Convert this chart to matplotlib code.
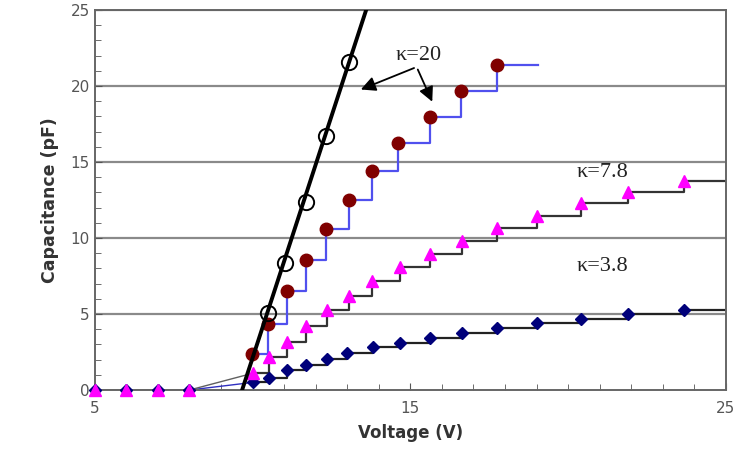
import numpy as np
import matplotlib.pyplot as plt
from matplotlib.ticker import MultipleLocator

# open circles (k=20, fitted line)
circ_v = [10.49, 11.03, 11.7, 12.33, 13.06]
circ_c = [5.07, 8.36, 12.4, 16.7, 21.6]
fit_v = [9.67, 13.6]
fit_c = [0.0, 25.0]

# dark red circles with blue step line (k=20)
red_v = [9.98, 10.5, 11.08, 11.7, 12.33, 13.06, 13.8, 14.6, 15.63, 16.6, 17.76, 19.03]
red_c = [2.37, 4.34, 6.5, 8.55, 10.6, 12.5, 14.4, 16.25, 17.96, 19.7, 21.4, 21.4]

# magenta triangles (k=7.8)
mag_v = [5, 6, 7, 8, 10.0, 10.52, 11.08, 11.7, 12.35, 13.06, 13.8, 14.68, 15.63, 16.64,
         17.75, 19.02, 20.4, 21.9, 23.66, 25.0]
mag_c = [0, 0, 0, 0, 1.1, 2.2, 3.15, 4.2, 5.26, 6.2, 7.2, 8.1, 8.95, 9.8,
         10.67, 11.47, 12.3, 13.05, 13.75, 13.75]

# navy diamonds (k=3.8)
navy_v = [5, 6, 7, 8, 10.0, 10.52, 11.08, 11.7, 12.35, 13.0, 13.83, 14.68, 15.63, 16.64,
          17.75, 19.02, 20.4, 21.9, 23.66, 25.0]
navy_c = [0, 0, 0, 0, 0.5, 0.8, 1.3, 1.65, 2.03, 2.45, 2.83, 3.1, 3.4, 3.77,
          4.1, 4.43, 4.7, 5.0, 5.26, 5.26]

fig = plt.figure(figsize=(7.4, 4.53), dpi=100)
ax = fig.add_axes([0.128, 0.139, 0.853, 0.839])

for y in [5, 10, 15, 20, 25]:
    ax.axhline(y, color='#8a8a8a', lw=1.6, zorder=0)

# low-voltage part: plain lines, then steps
ax.plot(navy_v[:5], navy_c[:5], color='#3030c0', lw=1, zorder=2)
ax.plot(mag_v[:5], mag_c[:5], color='#606060', lw=1, zorder=2)
ax.plot(navy_v[4:], navy_c[4:], color='#222222', lw=1.6, drawstyle='steps-post', zorder=2)
ax.plot(mag_v[4:], mag_c[4:], color='#333333', lw=1.6, drawstyle='steps-post', zorder=2)
ax.plot(red_v, red_c, color='#5050ee', lw=1.6, drawstyle='steps-post', zorder=2)

ax.plot(navy_v[:-1], navy_c[:-1], 'D', color='#00007a', ms=6.5, ls='none', zorder=3, clip_on=False)
ax.plot(mag_v[:-1], mag_c[:-1], '^', color='#ff00ff', ms=8, ls='none', zorder=4, clip_on=False)
ax.plot(red_v[:-1], red_c[:-1], 'o', color='#800000', ms=9, ls='none', zorder=4)

ax.plot(fit_v, fit_c, color='black', lw=2.8, zorder=5)
ax.plot(circ_v, circ_c, 'o', mfc='none', mec='black', mew=1.4, ms=11, ls='none', zorder=6)

# annotations
kfont = dict(fontsize=16, family='Liberation Serif', ha='center', va='center', color='#222222')
ax.text(15.25, 22.0, 'κ=20', **kfont)
for tx, ty in [(13.35, 19.7), (15.73, 18.8)]:
    ax.annotate('', xy=(tx, ty), xytext=(15.2, 21.25),
                arrowprops=dict(arrowstyle='-|>', color='black', lw=1.3, mutation_scale=22))
ax.text(21.1, 14.3, 'κ=7.8', **kfont)
ax.text(21.1, 8.1, 'κ=3.8', **kfont)

ax.set_xlim(5, 25)
ax.set_ylim(0, 25)
ax.set_xticks([5, 15, 25])
ax.set_yticks([0, 5, 10, 15, 20, 25])
ax.xaxis.set_minor_locator(MultipleLocator(1))
ax.yaxis.set_minor_locator(MultipleLocator(1))
ax.tick_params(which='both', direction='in', colors='#555555', labelsize=11)
ax.tick_params(which='major', length=5)
ax.tick_params(which='minor', length=4)
ax.tick_params(axis='x', pad=8)
for s in ax.spines.values():
    s.set_color('#666666')
    s.set_linewidth(1.4)

ax.set_xlabel('Voltage (V)', fontsize=12, fontweight='bold', color='#333333', labelpad=6)
ax.set_ylabel('Capacitance (pF)', fontsize=12.5, fontweight='bold', color='#333333', labelpad=8)

fig.savefig('out.png', dpi=100)
